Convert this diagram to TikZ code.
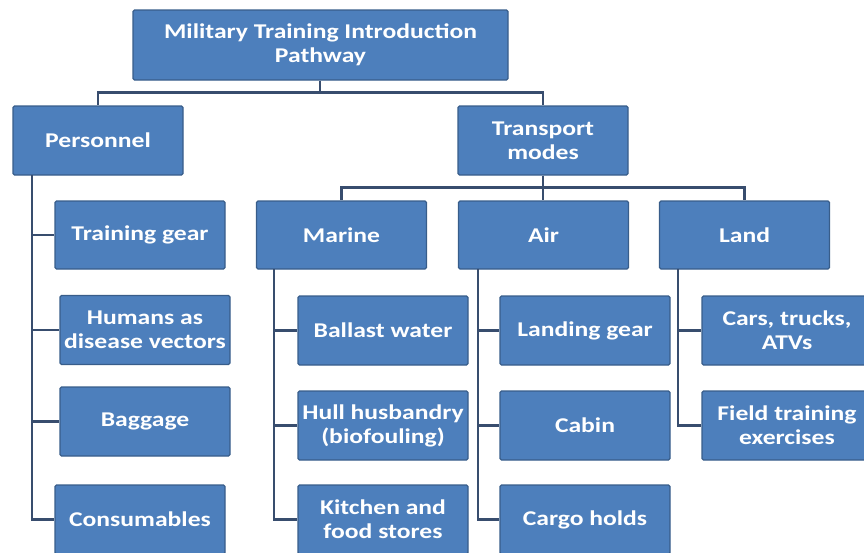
\documentclass[tikz,border=0pt]{standalone}
\usepackage{fontspec}
\newfontfamily\boxfont{Carlito}[FakeStretch=1.22]
\definecolor{boxfill}{HTML}{4D7FBC}
\definecolor{boxedge}{HTML}{385D8A}
\definecolor{linkcol}{HTML}{384D6E}
\tikzset{
  box/.style={draw=boxedge, fill=boxfill, line width=1.2pt, text=white,
    font=\boxfont\bfseries\fontsize{21}{24}\selectfont, align=center,
    minimum width=170pt, minimum height=69pt, inner sep=1pt, rounded corners=1.5pt},
  link/.style={draw=linkcol, line width=2.6pt}
}
\begin{document}
\begin{tikzpicture}[x=1pt,y=-1pt]
\useasboundingbox (0,0) rectangle (864,552);
\clip (0,0) rectangle (864,552);
% level 0
\node[box, minimum width=375pt, minimum height=70pt] (top) at (320.5,45) {Military Training Introduction\\Pathway};
% level 1
\node[box] (pers) at (98,140.5) {Personnel};
\node[box] (trans) at (543,140.5) {Transport\\modes};
% level 2
\node[box, minimum height=68pt] (marine) at (341.5,235) {Marine};
\node[box, minimum height=68pt] (air) at (543.5,235) {Air};
\node[box, minimum height=68pt] (land) at (744.5,235) {Land};
% personnel children
\node[box, minimum height=68pt] (tg) at (140,235) {Training gear};
\node[box] (hum) at (145,330) {Humans as\\disease vectors};
\node[box] (bag) at (145,421.5) {Baggage};
\node[box] (cons) at (140,519.5) {Consumables};
% marine children
\node[box] (ball) at (383,330.5) {Ballast water};
\node[box] (hull) at (383,425.5) {Hull husbandry\\(biofouling)};
\node[box] (kit) at (383,519.5) {Kitchen and\\food stores};
% air children
\node[box] (lg) at (585,330.5) {Landing gear};
\node[box] (cab) at (585,425.5) {Cabin};
\node[box] (cargo) at (585,519.5) {Cargo holds};
% land children
\node[box] (cars) at (787,330.5) {Cars, trucks,\\ATVs};
\node[box] (field) at (787,425.5) {Field training\\exercises};
% bus coordinates
\coordinate (pbus) at (32,175);
\coordinate (mbus) at (274,269);
\coordinate (abus) at (478,269);
\coordinate (lbus) at (678,269);
% connectors
\draw[link] (top.south -| 320,0) -- ++(0,12) -| (pers.north);
\draw[link] (top.south -| 320,0) -- ++(0,12) -| (trans.north);
\draw[link] (trans.south) -- ++(0,12) -| (marine.north);
\draw[link] (trans.south) -- ++(0,12) -| (land.north);
\draw[link] (trans.south) -- (air.north -| trans.south);
\draw[link] (pbus) |- (tg.west);
\draw[link] (pbus) |- (hum.west);
\draw[link] (pbus) |- (bag.west);
\draw[link] (pbus) |- (cons.west);
\draw[link] (mbus) |- (ball.west);
\draw[link] (mbus) |- (hull.west);
\draw[link] (mbus) |- (kit.west);
\draw[link] (abus) |- (lg.west);
\draw[link] (abus) |- (cab.west);
\draw[link] (abus) |- (cargo.west);
\draw[link] (lbus) |- (cars.west);
\draw[link] (lbus) |- (field.west);
\end{tikzpicture}
\end{document}
